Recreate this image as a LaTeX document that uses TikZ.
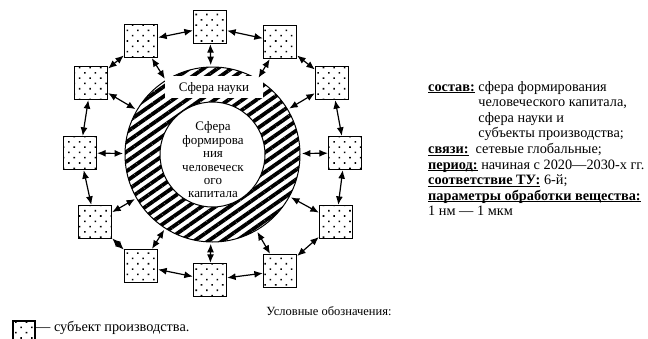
\documentclass[tikz,border=0pt]{standalone}
\usepackage{fontspec}
\setmainfont{Liberation Serif}
\usetikzlibrary{arrows.meta,patterns.meta,positioning}
\tikzset{>={Latex[length=8.5pt,width=7pt]}}
\tikzset{
    subj/.style={draw,line width=1.3pt,minimum size=33pt,inner sep=0pt,
        pattern={Dots[distance=7.5pt,angle=45,radius=1.1pt]}},
    link/.style={<->,line width=1.2pt},
    hatched/.style={pattern={Lines[angle=35,distance=8pt,line width=3.8pt]}}
}
\newlength{\ulwd}
\newcommand{\ulb}[1]{\settowidth{\ulwd}{\textbf{#1}}\rlap{\textbf{#1}}\rule[-1.7pt]{\ulwd}{0.7pt}}

\begin{document}
\begin{tikzpicture}[x=1pt,y=-1pt,font=\fontsize{14.3}{15.6}\selectfont]
    \clip (0,0) rectangle (648,338);
    % ring of spheres
    \node[circle,draw,line width=1pt,minimum size=175pt,inner sep=0pt,hatched] (outer) at (212.5,154.5) {};
    \node[circle,draw,fill=white,line width=1pt,minimum size=105pt,inner sep=0pt] (inner) at (212.5,154.5) {};
    \node[align=center,font=\fontsize{13}{13.4}\selectfont] (hcap) at (213,160)
        {Сфера\\формирова\\ния\\человеческ\\ого\\капитала};
    \fill[white] (165,76) rectangle (263,98);
    \node[font=\fontsize{13}{14}\selectfont] (sci) at (214,88) {Сфера науки};
    % subjects of production
    \node[subj] (b1)  at (210,27)  {};
    \node[subj] (b2)  at (280,42)  {};
    \node[subj] (b3)  at (332,83)  {};
    \node[subj] (b4)  at (345,153) {};
    \node[subj] (b5)  at (336,222) {};
    \node[subj] (b6)  at (280,271) {};
    \node[subj] (b7)  at (210,280) {};
    \node[subj] (b8)  at (141,266) {};
    \node[subj] (b9)  at (95,222)  {};
    \node[subj] (b10) at (80,153)  {};
    \node[subj] (b11) at (91,83)   {};
    \node[subj] (b12) at (141,41)  {};
    \path[link]
        (b1) edge (b2)  (b2) edge (b3)  (b3) edge (b4)
        (b4) edge (b5)  (b5) edge (b6)  (b6) edge (b7)
        (b7) edge (b8)  (b8) edge (b9)  (b9) edge (b10)
        (b10) edge (b11)  (b11) edge (b12)  (b12) edge (b1)
        ;
    \foreach \b in {b1,b2,b3,b4,b5,b6,b7,b8,b9,b10,b11,b12}
        \draw[link] (\b) -- (outer);
    % description
    \node[align=left,anchor=north west,inner sep=0pt] (props) at (428,81)
        {\ulb{состав:} сфера формирования\\
         \phantom{\textbf{состав:}} человеческого капитала,\\
         \phantom{\textbf{состав:}} сфера науки и\\
         \phantom{\textbf{состав:}} субъекты производства;\\
         \ulb{связи:}\ \ сетевые глобальные;\\
         \ulb{период:} начиная с 2020—2030-х гг.\\
         \ulb{соответствие ТУ:} 6-й;\\
         \ulb{параметры обработки вещества:}\\
         1 нм — 1 мкм};
    % legend
    \node[font=\fontsize{12.5}{14}\selectfont] (legtitle) at (329,311) {Условные обозначения:};
    \node[subj,minimum size=22pt] (key) at (24,332) {};
    \node[anchor=west,inner sep=1pt] (keytext) at (35,328) {— субъект производства.};
\end{tikzpicture}
\end{document}
